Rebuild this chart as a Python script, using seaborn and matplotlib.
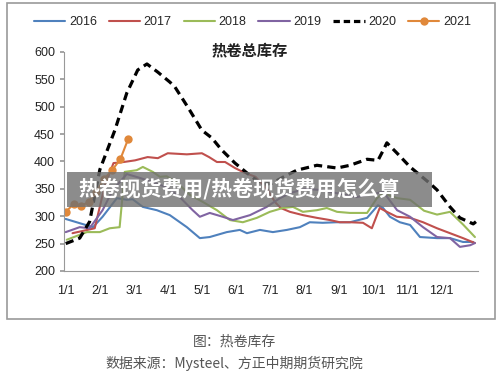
import numpy as np
import pandas as pd
import seaborn as sns
from matplotlib import pyplot as plt
from matplotlib.patches import Rectangle
from matplotlib.lines import Line2D

sns.set_theme(style="white")
plt.rcParams['font.family'] = ['Liberation Sans', 'Noto Sans CJK SC', 'DejaVu Sans']

# x = months since 1/1 (0 = 1/1, 11 = 12/1)
month_labels = ['1/1', '2/1', '3/1', '4/1', '5/1', '6/1', '7/1', '8/1', '9/1', '10/1', '11/1', '12/1']

m2016 = [0, 0.8, 1.08, 1.5, 1.79, 1.96, 2.26, 2.67, 3.05, 3.55, 3.93, 4.22, 4.72, 5.1, 5.31, 5.69, 6.07,
         6.48, 6.86, 7.15, 7.53, 7.94, 8.33, 8.83, 9.15, 9.3, 9.5, 9.79, 10.09, 10.38, 10.88, 11.26, 11.64, 11.94]
v2016 = [295, 280, 299, 333, 330, 331, 317, 311, 302, 280, 260, 262, 271, 275, 269, 275, 271,
         275, 280, 289, 288, 289, 289, 297, 320, 315, 299, 289, 284, 262, 260, 260, 253, 253]

m2017 = [0.2, 0.85, 1.15, 1.4, 1.7, 2.03, 2.4, 2.7, 2.99, 3.55, 3.99, 4.2, 4.43, 4.67, 4.96, 5.25, 5.56, 5.92,
         6.13, 6.3, 6.57, 6.95, 7.36, 7.74, 8.03, 8.33, 8.71, 8.97, 9.2, 9.41, 9.7, 10.09, 10.47, 10.88,
         11.26, 11.64, 11.99]
v2017 = [269, 278, 357, 397, 399, 402, 408, 406, 415, 413, 415, 408, 399, 399, 388, 379, 372, 348,
         326, 315, 308, 302, 297, 293, 289, 289, 288, 278, 315, 308, 299, 297, 289, 278,
         269, 260, 251]

m2018 = [0.03, 0.62, 1.0, 1.29, 1.58, 1.73, 2.08, 2.26, 2.55, 2.76, 2.96, 3.28, 3.64, 4.02, 4.43, 4.81,
         5.19, 5.6, 5.98, 6.36, 6.66, 6.95, 7.36, 7.65, 7.95, 8.33, 8.83, 9.12, 9.3, 9.71, 10.09, 10.5,
         10.88, 11.26, 11.64, 11.99]
v2018 = [257, 271, 271, 278, 280, 381, 384, 390, 381, 372, 373, 360, 339, 326, 311, 293,
         289, 297, 308, 315, 317, 308, 311, 315, 308, 306, 306, 333, 342, 333, 330, 310,
         303, 308, 285, 262]

m2019 = [0, 0.41, 0.7, 1.08, 1.38, 1.79, 2.17, 2.55, 2.96, 3.34, 3.72, 3.93, 4.22, 4.6, 4.9, 5.4,
         5.89, 6.28, 6.57, 7.0, 7.45, 7.95, 8.53, 9.12, 9.3, 9.71, 10.09, 10.47, 10.88, 11.26, 11.55,
         11.85, 11.99]
v2019 = [271, 280, 278, 311, 348, 377, 370, 362, 353, 335, 311, 299, 306, 299, 293, 302,
         317, 333, 342, 350, 348, 342, 335, 342, 345, 311, 299, 280, 262, 260, 244,
         247, 251]

m2020 = [0, 0.41, 0.7, 1.0, 1.44, 1.79, 2.11, 2.38, 2.7, 3.05, 3.2, 3.58, 3.99, 4.28, 4.57, 4.96,
         5.31, 5.75, 6.04, 6.36, 6.77, 7.36, 7.95, 8.33, 8.83, 9.15, 9.3, 9.41, 9.71, 10.09, 10.67,
         10.88, 11.26, 11.55, 11.94, 12.02]
v2020 = [250, 260, 290, 385, 457, 525, 567, 578, 563, 545, 536, 499, 457, 443, 421, 397,
         379, 358, 360, 371, 384, 393, 388, 393, 404, 402, 420, 434, 415, 390, 360,
         348, 317, 297, 286, 290]

m2021 = [0, 0.23, 0.46, 0.67, 0.9, 1.13, 1.37, 1.6, 1.83]
v2021 = [308, 322, 319, 326, 345, 368, 385, 404, 441]

series = [
    ('2016', m2016, v2016, '#4F81BD', '-'),
    ('2017', m2017, v2017, '#C0504D', '-'),
    ('2018', m2018, v2018, '#9BBB59', '-'),
    ('2019', m2019, v2019, '#8064A2', '-'),
    ('2020', m2020, v2020, '#000000', '--'),
    ('2021', m2021, v2021, '#E0883A', '-'),
]

fig = plt.figure(figsize=(5, 3.79), dpi=100)
ax = fig.add_axes([0.128, 0.285, 0.828, 0.578])

handles = []
for name, xs, ys, color, ls in series:
    df = pd.DataFrame({'month': xs, 'stock': ys})
    lw = 2.3 if name == '2020' else 1.5
    mk = 'o' if name == '2021' else None
    sns.lineplot(data=df, x='month', y='stock', ax=ax, color=color, linewidth=lw,
                 linestyle=ls, marker=mk, markersize=6, markeredgewidth=0,
                 estimator=None, sort=False)
    h = Line2D([], [], color=color, linewidth=lw, linestyle=ls, marker=mk,
               markersize=6, markeredgewidth=0, label=name)
    if ls == '--':
        ax.lines[-1].set_dashes((2.6, 1.6))
        h.set_dashes((2.0, 1.2))
    handles.append(h)

ax.set_xlim(-0.05, 12.08)
ax.set_ylim(200, 600)
ax.set_yticks(range(200, 601, 50))
ax.set_xticks(range(12))
ax.set_xticklabels(month_labels)
ax.set_xticks(np.arange(1, 13), minor=True)
ax.tick_params(axis='x', which='major', length=0, labelsize=9, pad=10, colors='#222222')
ax.tick_params(axis='x', which='minor', length=4, direction='in', color='#999999', width=0.8)
ax.tick_params(axis='y', length=3, direction='out', labelsize=9, colors='#222222', color='#999999', left=True)
ax.set_xlabel('')
ax.set_ylabel('')
for s in ['top', 'right']:
    ax.spines[s].set_visible(False)
for s in ['left', 'bottom']:
    ax.spines[s].set_color('#999999')
    ax.spines[s].set_linewidth(0.8)

fig.legend(handles=handles, loc='center', bbox_to_anchor=(0.505, 0.942), ncol=6, frameon=False,
           fontsize=9, handlelength=2.5, handletextpad=0.3, columnspacing=0.95)

fig.text(0.5, 0.868, '热卷总库存', ha='center', va='center', fontsize=11, fontweight='bold',
         family=['Noto Sans CJK SC'], color='#222222')

# outer frame
fig.patches.append(Rectangle((0.014, 1 - 319 / 379), 0.976, (319 - 3) / 379, transform=fig.transFigure,
                             fill=False, edgecolor='#9A9A9A', linewidth=1.2))

# overlay banner
fig.patches.append(Rectangle((67 / 500, 1 - 207 / 379), (432 - 67) / 500, 35 / 379, transform=fig.transFigure,
                             facecolor='#707070', alpha=0.8, edgecolor='none', zorder=5))
fig.text(78 / 500, 1 - 189 / 379, '热卷现货费用/热卷现货费用怎么算', ha='left', va='center', fontsize=15,
         fontweight='bold', color='white', family=['Noto Sans CJK SC'], zorder=6)

fig.text(0.47, 1 - 342 / 379, '图：热卷库存', ha='center', va='center', fontsize=10,
         color='#555555', family=['Noto Sans CJK SC'])
fig.text(0.468, 1 - 363 / 379, '数据来源：Mysteel、方正中期期货研究院', ha='center', va='center', fontsize=10,
         color='#555555', family=['Noto Sans CJK SC'])

fig.savefig('out.png', dpi=100)
